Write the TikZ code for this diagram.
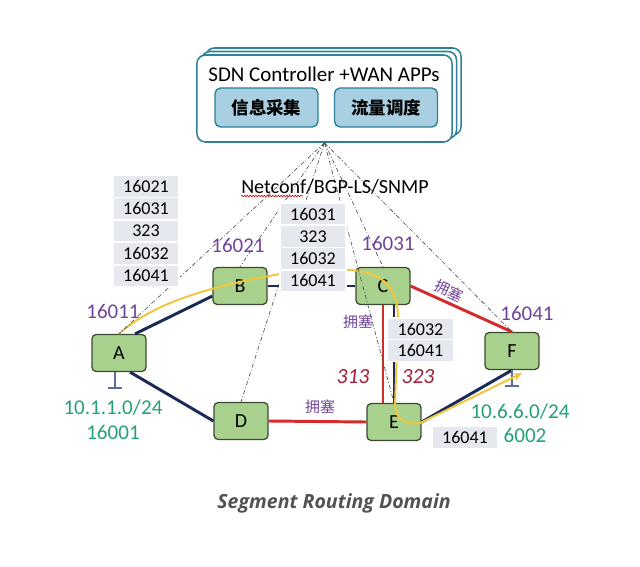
\documentclass[tikz,border=0pt]{standalone}
\usepackage[dvipsnames,svgnames]{xcolor}
\usepackage{fontspec}
\setmainfont{Carlito}
\newfontfamily\cjk{Noto Sans CJK SC}
\newfontfamily\capfont{Open Sans}
\usetikzlibrary{arrows.meta,calc,decorations.pathmorphing}

\definecolor{sdnteal}{HTML}{2F8198}
\definecolor{appblue}{HTML}{A8D0E2}
\definecolor{nodegreen}{HTML}{A9D18E}
\definecolor{nodeedge}{HTML}{3C4A33}
\definecolor{linknavy}{HTML}{1C2B55}
\definecolor{linkred}{HTML}{D42A2A}
\definecolor{pathyellow}{HTML}{F0C63A}
\definecolor{sidpurple}{HTML}{70449A}
\definecolor{pfxgreen}{HTML}{25A078}
\definecolor{cellgray}{HTML}{E6E8EF}
\definecolor{lblred}{HTML}{A3203A}
\definecolor{barblue}{HTML}{5B6F98}

\begin{document}
\begin{tikzpicture}[x=0.025cm,y=-0.025cm,
    box/.style={draw=sdnteal,line width=1.1pt,fill=white,rounded corners=6pt,minimum width=6.375cm,minimum height=2.175cm},
    app/.style={draw=sdnteal,line width=1pt,fill=appblue,rounded corners=4pt,minimum width=2.575cm,minimum height=0.975cm,font=\cjk\bfseries\fontsize{12.4}{14}\selectfont},
    router/.style={draw=nodeedge,line width=0.9pt,fill=nodegreen,rounded corners=3pt,minimum width=1.35cm,minimum height=0.925cm,inner sep=0pt,font=\fontsize{14.2}{15}\selectfont},
    cell/.style={draw=white,line width=1pt,fill=cellgray,minimum width=1.65cm,minimum height=0.55cm,inner sep=0pt,font=\fontsize{12.8}{14}\selectfont},
    sid/.style={text=sidpurple,font=\fontsize{14.9}{16}\selectfont},
    pfx/.style={text=pfxgreen,font=\fontsize{15}{16}\selectfont},
    jam/.style={text=sidpurple,inner sep=1pt,font=\cjk\fontsize{10.6}{12}\selectfont},
    lbl/.style={text=lblred,font=\itshape\fontsize{15.4}{16}\selectfont},
    navy/.style={draw=linknavy,line width=2.1pt},
    jamlink/.style={draw=linkred,line width=2.1pt},
    ctrl/.style={draw=black!70,line width=0.45pt,dash pattern=on 3pt off 1.5pt on 0.6pt off 1.5pt},
    ground/.style={draw=barblue,line width=1.4pt,-{Bar[width=0.36cm]}},
    srpath/.style={draw=pathyellow,line width=1.4pt,-{Stealth[length=2.2mm,width=2mm]}}]
    \useasboundingbox (0,0) rectangle (640,567);
    % controller
    \node[box] (sdnb) at (333.5,91.5) {};
    \node[box] (sdnm) at (329,95) {};
    \node[box] (sdn) at (324.5,98.5) {};
    \node[font=\fontsize{14.9}{16}\selectfont] (title) at (324,74) {SDN Controller +WAN APPs};
    \node[app] (info) at (266.5,107.5) {信息采集};
    \node[app] (flow) at (386,107.5) {流量调度};
    % routers
    \node[router] (A) at (119,353) {A};
    \node[router] (B) at (240,286) {B};
    \node[router] (C) at (383,286) {C};
    \node[router] (D) at (241,421) {D};
    \node[router] (E) at (394,422) {E};
    \node[router] (F) at (512,351) {F};
    % links
    \draw[navy] (A.50) -- (B.200);
    \draw[navy] (A.-60) -- (D.west);
    \draw[navy] (B.east) -- (C.west);
    \draw[navy] (E.north) -- (E.north |- C.south);
    \draw[navy] (E.east) -- (F.south);
    \draw[jamlink] (C.east) -- (F.north);
    \draw[jamlink] (C.south) -- (C.south |- E.north);
    \draw[jamlink] (D.east) -- (E.west);
    \draw[ground] ($(A.south)+(-4,0)$) -- ++(0,17);
    \draw[ground] (F.south) -- ++(0,17);
    % SR path
    \draw[srpath] (A.north) .. controls (150,306) and (200,288) .. (280,274) -- (350,270)
        .. controls (385,272) and (398,290) .. (398,318) -- (395,405)
        .. controls (396,420) and (405,425) .. (420,423) -- ($(F.south)+(10,3)$);
    % netconf
    \foreach \n in {A,B,D,C,E,F}
        \draw[ctrl] (sdn.south) -- (\n.north);
    \node[font=\fontsize{14.3}{16}\selectfont] (proto) at (335,187) {Netconf/BGP-LS/SNMP};
    \draw[red!80!black,line width=0.4pt,decorate,decoration={snake,amplitude=0.6pt,segment length=2pt}] (241,196) -- (303,196);
    % label stacks
    \foreach \t [count=\i] in {16021,16031,323,16032,16041}
        \node[cell] (l\i) at (146,{163.8+22.4*\i}) {\t};
    \foreach \t [count=\i] in {16031,323,16032,16041}
        \node[cell] (m\i) at (313,{191.9+22.25*\i}) {\t};
    \foreach \t [count=\i] in {16032,16041}
        \node[cell] (r\i) at (420.5,{307.5+21.5*\i}) {\t};
    \node[cell] (bt) at (465,437.5) {16041};
    % sids
    \node[sid] (sA) at (113,311) {16011};
    \node[sid] (sB) at (238,245) {16021};
    \node[sid] (sC) at (388,243) {16031};
    \node[sid] (sF) at (527,313) {16041};
    \node[pfx] (pA) at (113,408) {10.1.1.0/24};
    \node[pfx] (nA) at (113,432) {16001};
    \node[pfx] (pF) at (520,412) {10.6.6.0/24};
    \node[pfx] (nF) at (525,435) {6002};
    \node[jam,rotate=-25] (j1) at (449,291) {拥塞};
    \node[jam] (j2) at (358,322) {拥塞};
    \node[jam] (j3) at (320,407) {拥塞};
    \node[lbl] (a313) at (353,377) {313};
    \node[lbl] (a323) at (418,377) {323};
    \node[text=black!68,font=\capfont\bfseries\itshape\fontsize{13.9}{15}\selectfont] (cap) at (334,503) {Segment Routing Domain};
\end{tikzpicture}
\end{document}
